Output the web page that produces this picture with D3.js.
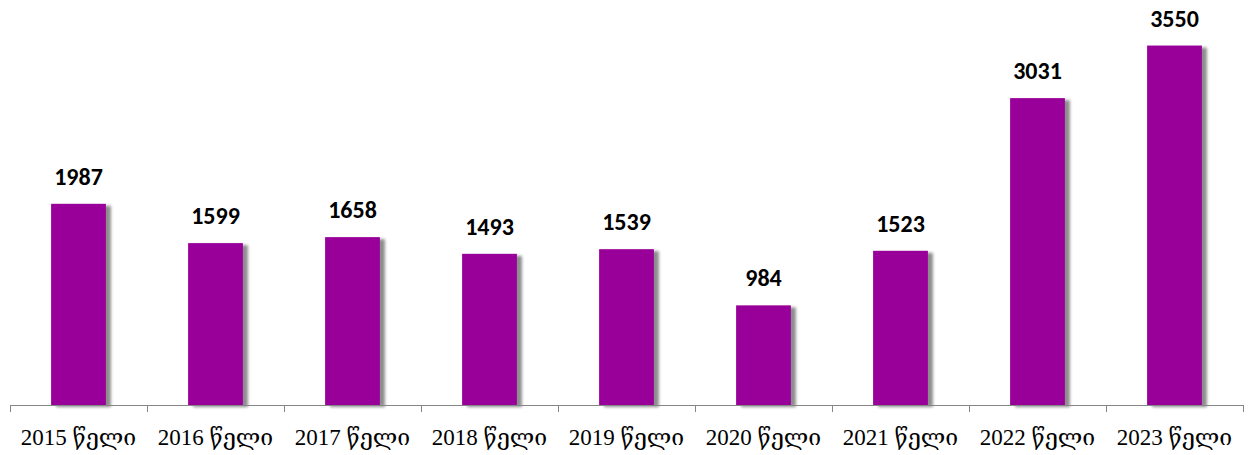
<!DOCTYPE html>
<html>
<head>
<meta charset="utf-8">
<script src="https://cdn.jsdelivr.net/npm/d3@7"></script>
<style>
  body { margin: 0; background: #fff; }
  svg { display: block; }
</style>
</head>
<body>
<svg></svg>
<script>
var width = 1249, height = 455;

// data
var years = ['2015', '2016', '2017', '2018', '2019', '2020', '2021', '2022', '2023'];
var values = [1987, 1599, 1658, 1493, 1539, 984, 1523, 3031, 3550];
var suffix = ' წელი';

var svg = d3.select('svg')
    .attr('width', width)
    .attr('height', height);

var x = d3.scaleBand()
    .domain(years)
    .range([10, 1243])
    .padding(0);

var y = d3.scaleLinear()
    .domain([0, 4000])
    .range([405, 0]);

var barW = x.bandwidth() * 0.4;

// soft grey shadow to the right of each bar
var defs = svg.append('defs');
var f = defs.append('filter')
    .attr('id', 'shade')
    .attr('x', '-20%').attr('y', '-20%')
    .attr('width', '150%').attr('height', '150%');
f.append('feGaussianBlur').attr('in', 'SourceAlpha').attr('stdDeviation', 1.6).attr('result', 'b');
f.append('feOffset').attr('in', 'b').attr('dx', 5).attr('dy', 2).attr('result', 'o');
f.append('feComponentTransfer').attr('in', 'o').attr('result', 's')
  .append('feFuncA').attr('type', 'linear').attr('slope', 0.45);
var m = f.append('feMerge');
m.append('feMergeNode').attr('in', 's');
m.append('feMergeNode').attr('in', 'SourceGraphic');

var data = years.map(function(d, i) { return {year: d, value: values[i]}; });

svg.append('g')
  .selectAll('rect')
  .data(data)
  .enter()
  .append('rect')
  .attr('x', function(d) { return x(d.year) + (x.bandwidth() - barW) / 2 })
  .attr('y', function(d) { return y(d.value) })
  .attr('width', barW)
  .attr('height', function(d) { return y(0) - y(d.value) })
  .attr('fill', '#990099')
  .attr('filter', 'url(#shade)');

// value labels
svg.append('g')
  .selectAll('text')
  .data(data)
  .enter()
  .append('text')
  .attr('x', function(d) { return x(d.year) + x.bandwidth() / 2 })
  .attr('y', function(d) { return y(d.value) - 19 })
  .attr('text-anchor', 'middle')
  .style('font-family', 'Carlito, Lato, "Open Sans", sans-serif')
  .style('font-weight', 'bold')
  .style('font-size', '24px')
  .attr('fill', '#000')
  .text(function(d) { return d.value });

// axis line, ticks at band edges
var axis = svg.append('g');
axis.append('line')
  .attr('x1', 10).attr('x2', 1243)
  .attr('y1', 405.5).attr('y2', 405.5)
  .attr('stroke', '#868686');

var edges = years.map(function(d) { return x(d) }).concat([x.range()[1]]);
axis.selectAll('line.tick')
  .data(edges)
  .enter()
  .append('line')
  .attr('class', 'tick')
  .attr('x1', function(d) { return Math.round(d) + 0.5 })
  .attr('x2', function(d) { return Math.round(d) + 0.5 })
  .attr('y1', 405)
  .attr('y2', 412)
  .attr('stroke', '#868686');

axis.selectAll('text')
  .data(years)
  .enter()
  .append('text')
  .attr('x', function(d) { return x(d) + x.bandwidth() / 2 })
  .attr('y', 445)
  .attr('text-anchor', 'middle')
  .style('font-family', '"Liberation Serif", "DejaVu Serif", serif')
  .style('font-size', '23px')
  .attr('fill', '#000')
  .text(function(d) { return d + suffix });
</script>
</body>
</html>
